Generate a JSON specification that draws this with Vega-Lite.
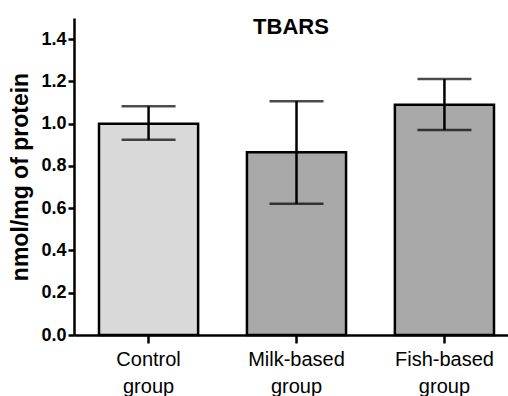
{
  "$schema": "https://vega.github.io/schema/vega-lite/v6.json",
  "width": 434,
  "height": 317,
  "autosize": {"type": "none"},
  "padding": {"left": 74, "top": 18, "right": 0, "bottom": 61},
  "background": "white",
  "title": {
    "text": "TBARS",
    "font": "Liberation Sans",
    "fontSize": 22,
    "fontWeight": "bold",
    "color": "black",
    "anchor": "middle",
    "baseline": "alphabetic",
    "offset": -38
  },
  "config": {
    "view": {"stroke": null},
    "font": "Liberation Sans",
    "axis": {
      "domainColor": "black",
      "domainWidth": 2.5,
      "tickColor": "black",
      "tickWidth": 2.5,
      "labelColor": "black",
      "titleColor": "black",
      "grid": false,
      "labelFont": "Liberation Sans",
      "titleFont": "Liberation Sans"
    }
  },
  "data": {
    "values": [
      {"group": "Control group", "mean": 1.0, "lo": 0.924, "hi": 1.082},
      {"group": "Milk-based group", "mean": 0.865, "lo": 0.621, "hi": 1.106},
      {"group": "Fish-based group", "mean": 1.089, "lo": 0.970, "hi": 1.211}
    ]
  },
  "encoding": {
    "x": {
      "field": "group",
      "type": "nominal",
      "sort": null,
      "scale": {"paddingInner": 0.33, "paddingOuter": 0.169, "range": [0, 445]},
      "axis": {
        "title": null,
        "labelAngle": 0,
        "labelFontSize": 20,
        "labelExpr": "split(datum.value, ' ')",
        "labelLineHeight": 27,
        "labelPadding": 6,
        "tickSize": 8
      }
    }
  },
  "layer": [
    {
      "mark": {"type": "bar", "stroke": "black", "strokeWidth": 2.5},
      "encoding": {
        "y": {
          "field": "mean",
          "type": "quantitative",
          "scale": {"domain": [0, 1.5], "nice": false},
          "axis": {
            "title": "nmol/mg of protein",
            "titleFontSize": 23,
            "titleFontWeight": "bold",
            "titlePadding": 8,
            "values": [0, 0.2, 0.4, 0.6, 0.8, 1.0, 1.2, 1.4],
            "format": ".1f",
            "labelFontSize": 18,
            "labelFontWeight": "bold",
            "labelPadding": 2,
            "tickSize": 6
          }
        },
        "fill": {
          "field": "group",
          "type": "nominal",
          "scale": {"domain": ["Control group", "Milk-based group", "Fish-based group"], "range": ["#d9d9d9", "#a9a9a9", "#a9a9a9"]},
          "legend": null
        }
      }
    },
    {
      "mark": {"type": "rule", "color": "black", "strokeWidth": 2.5},
      "encoding": {
        "y": {"field": "lo", "type": "quantitative"},
        "y2": {"field": "hi"}
      }
    },
    {
      "mark": {"type": "tick", "color": "black", "thickness": 2.5, "size": 54, "orient": "horizontal"},
      "encoding": {
        "y": {"field": "hi", "type": "quantitative"}
      }
    },
    {
      "mark": {"type": "tick", "color": "black", "thickness": 2.5, "size": 54, "orient": "horizontal"},
      "encoding": {
        "y": {"field": "lo", "type": "quantitative"}
      }
    }
  ]
}
